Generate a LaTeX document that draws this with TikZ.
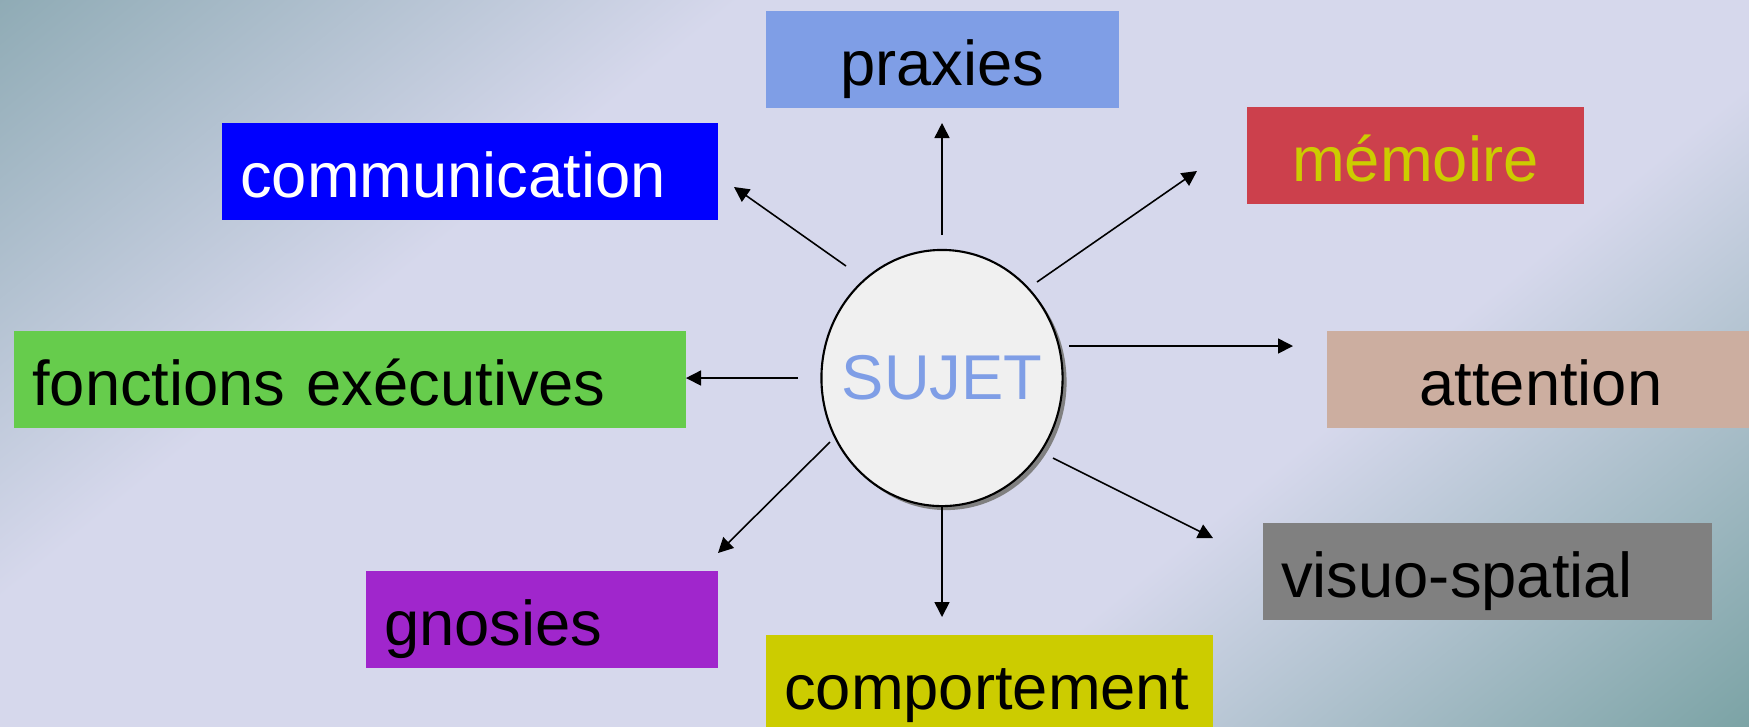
\documentclass[tikz,border=0pt]{standalone}
\usepackage{fontspec}
\setmainfont{Liberation Sans}
\usetikzlibrary{arrows.meta,shapes.geometric,shadows}

\definecolor{bgtl}{RGB}{143,171,181}
\definecolor{bglav}{RGB}{214,216,236}
\definecolor{bgbr}{RGB}{123,163,165}
\definecolor{praxfill}{RGB}{127,158,230}
\definecolor{comfill}{RGB}{0,0,255}
\definecolor{memfill}{RGB}{204,64,76}
\definecolor{memtext}{RGB}{204,204,0}
\definecolor{foncfill}{RGB}{102,204,76}
\definecolor{attfill}{RGB}{204,174,160}
\definecolor{gnosfill}{RGB}{160,38,204}
\definecolor{compfill}{RGB}{204,204,0}
\definecolor{visfill}{RGB}{128,128,128}
\definecolor{sujetfill}{RGB}{240,240,240}
\definecolor{sujettext}{RGB}{127,158,230}

\pgfdeclareverticalshading{backdrop}{100bp}{color(0bp)=(bgbr); color(25bp)=(bgbr); color(40bp)=(bglav); color(61bp)=(bglav); color(75bp)=(bgtl); color(100bp)=(bgtl)}

\begin{document}
\begin{tikzpicture}[x=0.01cm,y=-0.01cm]
            \tikzset{box/.style = {anchor=north west, inner xsep=0.185cm, inner ysep=0pt,
                minimum height=0.97cm, text height=0.7cm, text depth=0.18cm,
                font=\fontsize{18}{22}\selectfont}}
            \tikzset{edge/.style = {-{Triangle[length=0.15cm,width=0.15cm]}, line width=0.45pt}}

            \useasboundingbox (0,0) rectangle (1749,726);
            \clip (0,0) rectangle (1749,726);
            % backdrop, corner to corner
            \shade[shading=backdrop, transform canvas={rotate around={39:(874.5,363)}}]
              (-125.5,-471) rectangle (1874.5,1197);

            % boxes, text on the left
            \foreach \n/\x/\y/\w/\c/\t/\l in {com/221/122/4.59/comfill/white/communication,
                fonc/13/330/6.35/foncfill/black/fonctions exécutives,
                gnos/365/570/3.15/gnosfill/black/gnosies,
                comp/765/634/4.10/compfill/black/comportement,
                vis/1262/522/4.12/visfill/black/visuo-spatial}
            {
              \node[box, fill=\c, text=\t, text width=\w cm, align=left] (\n) at (\x,\y) {\l};
            }
            % boxes, text centred
            \foreach \n/\x/\y/\w/\c/\t/\l in {prax/765/10/3.16/praxfill/black/praxies,
                mem/1246/106/3.00/memfill/memtext/mémoire,
                att/1326/330/3.91/attfill/black/attention}
            {
              \node[box, fill=\c, text=\t, text width=\w cm, align=center] (\n) at (\x,\y) {\l};
            }

            % centre
            \node[ellipse, draw, line width=0.6pt, fill=sujetfill, inner xsep=-0.15cm, inner ysep=0pt,
              minimum width=2.41cm, minimum height=2.56cm, text=sujettext,
              font=\fontsize{18}{22}\selectfont,
              drop shadow={shadow xshift=0.04cm, shadow yshift=-0.04cm, fill=black!50, opacity=1}]
              (sujet) at (942,378) {SUJET};

            % arrows
            \foreach \n/\ax/\ay/\bx/\by in {prax/942/235/942/123, com/846/266/734/187,
                mem/1037/282/1197/171, fonc/798/378/686/378, att/1069/346/1293/346,
                gnos/830/442/718/553, comp/942/506/942/617, vis/1053/458/1213/538}
            {
              \coordinate (\n-a) at (\ax,\ay);
              \coordinate (\n-b) at (\bx,\by);
              \draw[edge] (\n-a) -- (\n-b);
            }

\end{tikzpicture}
\end{document}
